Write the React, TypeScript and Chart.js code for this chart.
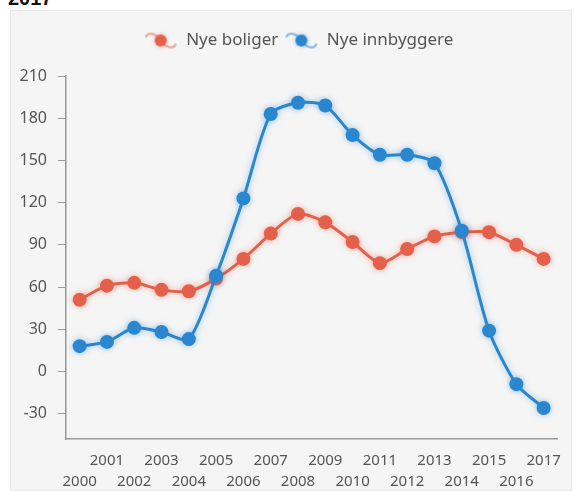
import React, { useEffect, useRef } from 'react';
import { Chart, registerables } from 'chart.js';

Chart.register(...registerables);

const years = ['2000', '2001', '2002', '2003', '2004', '2005', '2006', '2007', '2008', '2009', '2010', '2011', '2012', '2013', '2014', '2015', '2016', '2017'];
const nyeBoliger = [51, 61, 63, 58, 57, 66, 80, 98, 112, 106, 92, 77, 87, 96, 99, 99, 90, 80];
const nyeInnbyggere = [18, 21, 31, 28, 23, 68, 123, 183, 191, 189, 168, 154, 154, 148, 100, 29, -9, -26];
const yTicks = [-30, 0, 30, 60, 90, 120, 150, 180, 210];
const seriesNames = ['Nye boliger', 'Nye innbyggere'];
const seriesColors = ['#E5604A', '#2A86CF'];
const glowColors = ['rgba(229,96,74,0.45)', 'rgba(42,134,207,0.45)'];
const titleText = '2017';

const FONT = '"Noto Sans", "Open Sans", sans-serif';

function makeIcon(color: string, glow: string): HTMLCanvasElement {
  const c = document.createElement('canvas');
  c.width = 34;
  c.height = 20;
  const ctx = c.getContext('2d')!;
  ctx.strokeStyle = color;
  ctx.globalAlpha = 0.55;
  ctx.lineWidth = 2;
  ctx.beginPath();
  ctx.moveTo(2, 7);
  ctx.bezierCurveTo(3, 1, 12, 2, 17, 10);
  ctx.bezierCurveTo(22, 18, 31, 19, 32, 13);
  ctx.stroke();
  ctx.globalAlpha = 1;
  ctx.shadowColor = glow;
  ctx.shadowBlur = 4;
  ctx.fillStyle = color;
  ctx.beginPath();
  ctx.arc(17, 10, 6, 0, Math.PI * 2);
  ctx.fill();
  return c;
}

const legendTweak = {
  id: 'legendTweak',
  beforeUpdate(chart: any) {
    const lg = chart.legend;
    if (lg && !lg._tweaked) {
      const origFit = lg.fit.bind(lg);
      lg.fit = function () {
        origFit();
        this.height += 17;
      };
      const origDraw = lg.draw.bind(lg);
      lg.draw = function () {
        const ctx = chart.ctx;
        ctx.save();
        ctx.translate(9, 0);
        origDraw();
        ctx.restore();
      };
      lg._tweaked = true;
    }
  },
};

const glowPlugin = {
  id: 'glowPlugin',
  beforeDatasetDraw(chart: any, args: any) {
    const ctx = chart.ctx;
    ctx.save();
    ctx.shadowColor = glowColors[args.index];
    ctx.shadowBlur = 6;
  },
  afterDatasetDraw(chart: any) {
    chart.ctx.restore();
  },
};

export default function App() {
  const ref = useRef<HTMLCanvasElement | null>(null);

  useEffect(() => {
    if (!ref.current) return;
    const icons = seriesColors.map((c, i) => makeIcon(c, glowColors[i]));
    const defaultGen = (Chart as any).defaults.plugins.legend.labels.generateLabels;
    const chart = new Chart(ref.current, {
      type: 'line',
      data: {
        labels: years,
        datasets: [
          {
            label: seriesNames[0],
            data: nyeBoliger,
            borderColor: seriesColors[0],
            backgroundColor: seriesColors[0],
            pointBackgroundColor: seriesColors[0],
            pointBorderWidth: 0,
            pointRadius: 7,
            borderWidth: 3,
            tension: 0.25,
            order: 1,
          },
          {
            label: seriesNames[1],
            data: nyeInnbyggere,
            borderColor: seriesColors[1],
            backgroundColor: seriesColors[1],
            pointBackgroundColor: seriesColors[1],
            pointBorderWidth: 0,
            pointRadius: 7,
            borderWidth: 3,
            tension: 0.25,
            order: 0,
          },
        ],
      },
      options: {
        animation: false,
        responsive: true,
        maintainAspectRatio: false,
        layout: { padding: { top: 16, right: 3, left: 0, bottom: 0 } },
        plugins: {
          tooltip: { enabled: false },
          legend: {
            display: true,
            position: 'top',
            align: 'center',
            labels: {
              usePointStyle: true,
              pointStyleWidth: 34,
              padding: 6,
              color: '#555555',
              font: { family: FONT, size: 17 },
              sort: (a: any, b: any) => a.datasetIndex - b.datasetIndex,
              generateLabels: (ch: any) => {
                const items = defaultGen(ch);
                items.forEach((it: any, i: number) => {
                  it.pointStyle = icons[it.datasetIndex ?? i];
                });
                return items;
              },
            },
          },
        },
        scales: {
          x: {
            type: 'category',
            offset: true,
            grid: { display: false, drawTicks: false },
            border: { display: true, color: '#9a9a9a', width: 1.5 },
            ticks: {
              autoSkip: false,
              maxRotation: 0,
              minRotation: 0,
              padding: 11,
              color: '#555555',
              font: { family: FONT, size: 15, lineHeight: 1.4 },
              callback: (_v: any, i: number) => (i % 2 === 0 ? ['', years[i]] : [years[i]]),
            },
            afterFit: (s: any) => {
              s.height = 52;
            },
          },
          y: {
            type: 'linear',
            min: -48,
            max: 210,
            grid: { display: true, drawOnChartArea: false, drawTicks: true, tickLength: 8, color: '#9a9a9a' },
            border: { display: true, color: '#9a9a9a', width: 1.5 },
            ticks: {
              padding: 11,
              color: '#555555',
              font: { family: FONT, size: 16 },
            },
            afterBuildTicks: (axis: any) => {
              axis.ticks = yTicks.map((v) => ({ value: v }));
            },
            afterFit: (s: any) => {
              s.width = 56;
            },
          },
        },
      },
      plugins: [legendTweak, glowPlugin],
    } as any);
    return () => chart.destroy();
  }, []);

  return (
    <div style={{ position: 'absolute', left: 0, top: 0, width: 575, height: 491, overflow: 'hidden', background: '#ffffff' }}>
      <div
        style={{
          position: 'absolute',
          left: 8,
          top: -12,
          fontFamily: '"Liberation Sans", Arial, sans-serif',
          fontWeight: 'bold',
          fontSize: 20,
          lineHeight: '20px',
          color: '#111',
        }}
      >
        {titleText}
      </div>
      <div
        style={{
          position: 'absolute',
          left: 10,
          top: 10,
          width: 562,
          height: 481,
          background: '#f5f5f5',
          boxShadow: 'inset 0 0 0 1px #e9e9e9',
        }}
      >
        <canvas ref={ref} />
      </div>
    </div>
  );
}
